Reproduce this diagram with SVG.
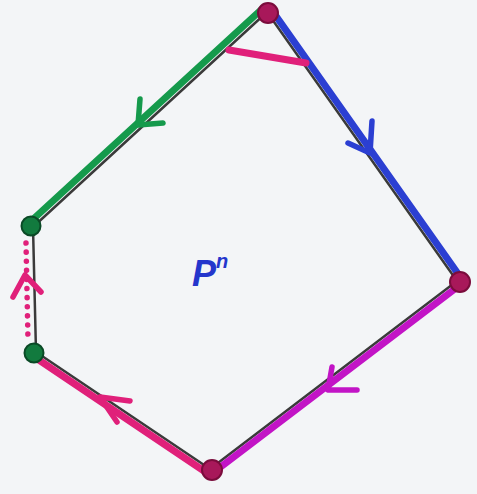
<svg xmlns="http://www.w3.org/2000/svg" width="477" height="494" viewBox="0 0 477 494">
<style>
.edge{fill:none;stroke:#3a3a3a;stroke-width:2.5;stroke-linecap:round}
.g{stroke:#159a4c}
.b{stroke:#2b3fd2}
.m{stroke:#c214c6}
.p{stroke:#e0207a}
.ink{fill:none;stroke-width:7;stroke-linecap:round;stroke-linejoin:round}
.head{fill:none;stroke-width:5.5;stroke-linecap:round;stroke-linejoin:round}
.vm{fill:#a8185a;stroke:#7a0c3c;stroke-width:2}
.vg{fill:#127a3e;stroke:#0a4a26;stroke-width:2}
.lbl{font-family:"Liberation Sans",Arial,sans-serif;font-style:italic;font-weight:bold;fill:#2436cc}
</style>
<rect width="477" height="494" fill="#f3f5f7"/>
<g id="connectors">
  <g id="edge-top-lefttop">
    <line class="edge" x1="267" y1="12" x2="33" y2="227"/>
    <line class="ink g" x1="262" y1="9" x2="29" y2="223"/>
    <polyline class="head g" points="140,99 138,125 163,123"/>
  </g>
  <g id="edge-top-right">
    <line class="edge" x1="267" y1="12" x2="457" y2="281"/>
    <line class="ink b" x1="271" y1="9" x2="461" y2="278"/>
    <polyline class="head b" points="372,121 370,153 348,143"/>
  </g>
  <g id="edge-right-bottom">
    <line class="edge" x1="457" y1="281" x2="210" y2="469"/>
    <line class="ink m" x1="460" y1="285" x2="214" y2="472"/>
    <polyline class="head m" points="332,367 328,390 357,390"/>
  </g>
  <g id="edge-bottom-leftbottom">
    <line class="edge" x1="210" y1="469" x2="36" y2="352"/>
    <line class="ink p" x1="207" y1="473" x2="33" y2="356"/>
    <polyline class="head p" points="130,401 100,397 117,422"/>
  </g>
  <g id="edge-leftbottom-lefttop">
    <line class="edge" x1="36" y1="352" x2="33" y2="227"/>
    <line class="p" x1="26" y1="243" x2="28" y2="340" stroke-width="5.5" stroke-linecap="round" stroke-dasharray="0.1 9" fill="none"/>
    <polyline class="head p" points="13,297 25,275 41,292"/>
  </g>
  <line id="slash" class="ink p" x1="229" y1="50" x2="306" y2="63"/>
</g>
<g id="v-top"><circle class="vm" cx="268" cy="13" r="10"/></g>
<g id="v-right"><circle class="vm" cx="460" cy="282" r="10"/></g>
<g id="v-bottom"><circle class="vm" cx="212" cy="470" r="10"/></g>
<g id="v-leftbottom"><circle class="vg" cx="34" cy="353" r="9.5"/></g>
<g id="v-lefttop"><circle class="vg" cx="31" cy="226" r="9.5"/></g>
<g id="label"><text class="lbl" x="192" y="286" font-size="36">P<tspan font-size="20" dy="-18">n</tspan></text></g>
</svg>
